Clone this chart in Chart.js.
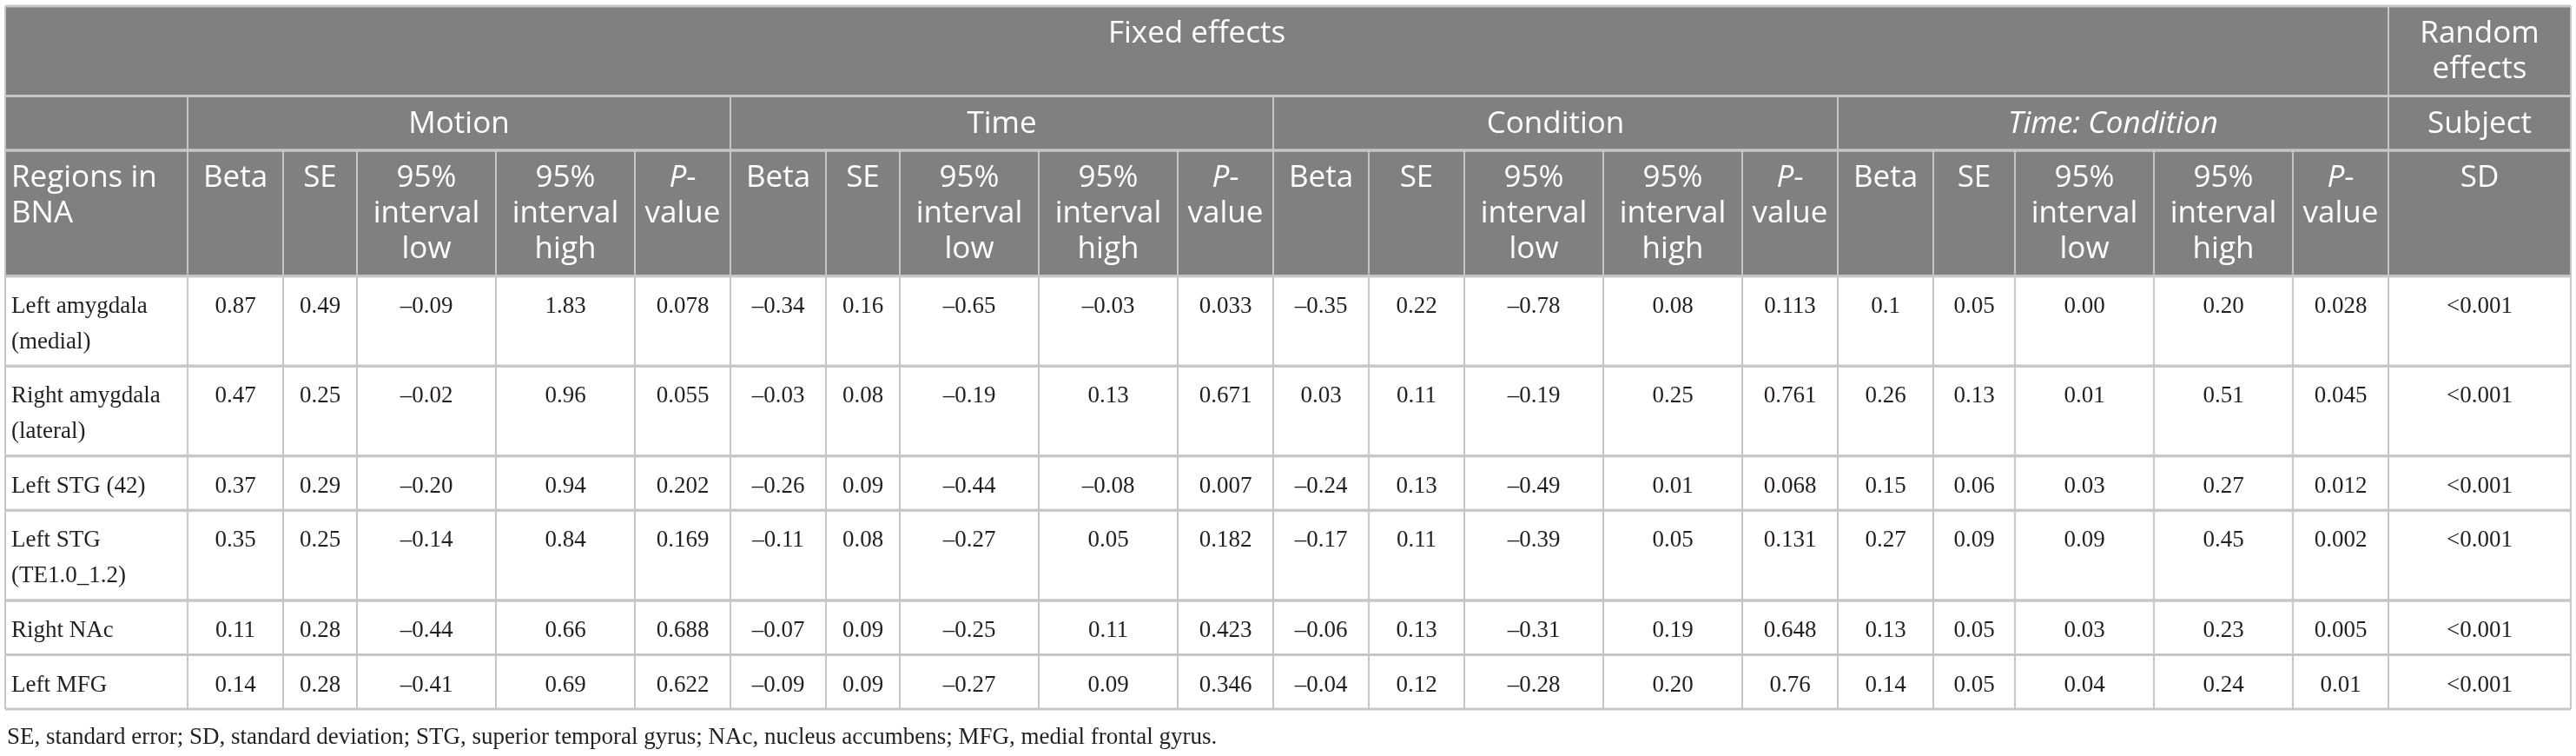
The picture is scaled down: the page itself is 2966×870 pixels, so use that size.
<!DOCTYPE html>
<html>
<head>
<meta charset="utf-8">
<title>Linear mixed model table</title>
<script src="https://cdn.jsdelivr.net/npm/chart.js@4.4.1/dist/chart.umd.min.js"></script>
<style>
  html, body { margin: 0; padding: 0; background: #fff; }
  #wrap { width: 2966px; height: 870px; position: relative; }
</style>
</head>
<body>
<div id="wrap"><canvas id="table"></canvas></div>
<script>
// ---- data ----
const regions = ['Left amygdala (medial)', 'Right amygdala (lateral)', 'Left STG (42)', 'Left STG (TE1.0_1.2)', 'Right NAc', 'Left MFG'];

const motionBeta = ['0.87', '0.47', '0.37', '0.35', '0.11', '0.14'];
const motionSE   = ['0.49', '0.25', '0.29', '0.25', '0.28', '0.28'];
const motionLow  = ['-0.09', '-0.02', '-0.20', '-0.14', '-0.44', '-0.41'];
const motionHigh = ['1.83', '0.96', '0.94', '0.84', '0.66', '0.69'];
const motionP    = ['0.078', '0.055', '0.202', '0.169', '0.688', '0.622'];

const timeBeta = ['-0.34', '-0.03', '-0.26', '-0.11', '-0.07', '-0.09'];
const timeSE   = ['0.16', '0.08', '0.09', '0.08', '0.09', '0.09'];
const timeLow  = ['-0.65', '-0.19', '-0.44', '-0.27', '-0.25', '-0.27'];
const timeHigh = ['-0.03', '0.13', '-0.08', '0.05', '0.11', '0.09'];
const timeP    = ['0.033', '0.671', '0.007', '0.182', '0.423', '0.346'];

const condBeta = ['-0.35', '0.03', '-0.24', '-0.17', '-0.06', '-0.04'];
const condSE   = ['0.22', '0.11', '0.13', '0.11', '0.13', '0.12'];
const condLow  = ['-0.78', '-0.19', '-0.49', '-0.39', '-0.31', '-0.28'];
const condHigh = ['0.08', '0.25', '0.01', '0.05', '0.19', '0.20'];
const condP    = ['0.113', '0.761', '0.068', '0.131', '0.648', '0.76'];

const tcBeta = ['0.1', '0.26', '0.15', '0.27', '0.13', '0.14'];
const tcSE   = ['0.05', '0.13', '0.06', '0.09', '0.05', '0.05'];
const tcLow  = ['0.00', '0.01', '0.03', '0.09', '0.03', '0.04'];
const tcHigh = ['0.20', '0.51', '0.27', '0.45', '0.23', '0.24'];
const tcP    = ['0.028', '0.045', '0.012', '0.002', '0.005', '0.01'];

const subjectSD = ['<0.001', '<0.001', '<0.001', '<0.001', '<0.001', '<0.001'];

// header labels (*...* = italic)
const groupLabels = ['Fixed effects', 'Random effects'];
const effectLabels = ['Motion', 'Time', 'Condition', '*Time: Condition*', 'Subject'];
const statLabels = ['Beta', 'SE', '95% interval low', '95% interval high', '*P*-value'];
const firstColLabel = 'Regions in BNA';
const sdLabel = 'SD';
const footnote = 'SE, standard error; SD, standard deviation; STG, superior temporal gyrus; NAc, nucleus accumbens; MFG, medial frontal gyrus.';

// ---- layout / style ----
const colWidths = [210, 110, 85, 160, 160, 110, 110, 85, 160, 160, 110, 110, 110, 160, 160, 110, 110, 94, 160, 160, 110, 210];
const HEAD_FONT = '35px "Open Sans"';
const BODY_FONT = '27px "Liberation Serif"';
const LINE_H = 41;
const CELL_PAD = 7;
const HEAD_BG = '#808080';
const RULE = '#c6c6c6';

const bodyColumns = [regions,
  motionBeta, motionSE, motionLow, motionHigh, motionP,
  timeBeta, timeSE, timeLow, timeHigh, timeP,
  condBeta, condSE, condLow, condHigh, condP,
  tcBeta, tcSE, tcLow, tcHigh, tcP,
  subjectSD];

const fmt = v => v.replace(/^-/, '\u2013');

// build the cell list
const cells = [];
cells.push({ r: 0, c0: 0, c1: 20, text: groupLabels[0], head: true });
cells.push({ r: 0, c0: 21, c1: 21, text: groupLabels[1], head: true });
cells.push({ r: 1, c0: 0, c1: 0, text: '', head: true });
for (let g = 0; g < 4; g++) {
  cells.push({ r: 1, c0: 1 + g * 5, c1: 5 + g * 5, text: effectLabels[g], head: true });
}
cells.push({ r: 1, c0: 21, c1: 21, text: effectLabels[4], head: true });
cells.push({ r: 2, c0: 0, c1: 0, text: firstColLabel, head: true, align: 'left' });
for (let g = 0; g < 4; g++) {
  statLabels.forEach((lab, k) => {
    cells.push({ r: 2, c0: 1 + g * 5 + k, c1: 1 + g * 5 + k, text: lab, head: true });
  });
}
cells.push({ r: 2, c0: 21, c1: 21, text: sdLabel, head: true });
regions.forEach((reg, i) => {
  bodyColumns.forEach((col, j) => {
    cells.push({ r: 3 + i, c0: j, c1: j, text: j ? fmt(col[i]) : reg, head: false, align: j ? 'center' : 'left' });
  });
});

const colEdges = [0];
colWidths.forEach(w => colEdges.push(colEdges[colEdges.length - 1] + w));

// split text into unbreakable units made of styled runs
function parseRich(text) {
  const units = [];
  let cur = null, space = false;
  text.split('*').forEach((seg, i) => {
    const it = i % 2 === 1;
    for (const ch of seg) {
      if (ch === ' ') { cur = null; space = true; continue; }
      if (!cur) {
        cur = { space: space && units.length > 0, runs: [] };
        units.push(cur);
        space = false;
      }
      const last = cur.runs[cur.runs.length - 1];
      if (last && last.it === it) last.t += ch; else cur.runs.push({ t: ch, it: it });
      if (ch === '-') cur = null;
    }
  });
  return units;
}

function fontOf(base, it) { return it ? 'italic ' + base : base; }

function unitWidth(ctx, base, u) {
  let w = 0;
  u.runs.forEach(run => { ctx.font = fontOf(base, run.it); w += ctx.measureText(run.t).width; });
  return w;
}

function wrap(ctx, text, base, maxW) {
  const units = parseRich(text);
  ctx.font = base;
  const sw = ctx.measureText(' ').width;
  const lines = [];
  let line = [], w = 0;
  units.forEach(u => {
    const uw = unitWidth(ctx, base, u);
    const add = (line.length && u.space ? sw : 0) + uw;
    if (line.length && w + add > maxW) {
      lines.push({ units: line, width: w });
      line = [Object.assign({}, u, { space: false })];
      w = uw;
    } else {
      line.push(u);
      w += add;
    }
  });
  if (line.length) lines.push({ units: line, width: w });
  return lines;
}

// measure lines to size rows
const measureCtx = document.createElement('canvas').getContext('2d');
cells.forEach(cell => {
  const width = colEdges[cell.c1 + 1] - colEdges[cell.c0] - 2 * CELL_PAD;
  cell.font = cell.head ? HEAD_FONT : BODY_FONT;
  cell.lines = cell.text ? wrap(measureCtx, cell.text, cell.font, width) : [];
});
const rowCount = 3 + regions.length;
const rowLines = new Array(rowCount).fill(1);
cells.forEach(cell => { rowLines[cell.r] = Math.max(rowLines[cell.r], cell.lines.length); });
const rowEdges = [0];
rowLines.forEach(n => rowEdges.push(rowEdges[rowEdges.length - 1] + 21.5 + LINE_H * n));

const tablePlugin = {
  id: 'tableCells',
  afterDraw(chart) {
    const ctx = chart.ctx;
    const x = chart.scales.x, y = chart.scales.y;
    const box = cell => ({
      left: x.getPixelForValue(colEdges[cell.c0]),
      right: x.getPixelForValue(colEdges[cell.c1 + 1]),
      top: y.getPixelForValue(rowEdges[cell.r]),
      bottom: y.getPixelForValue(rowEdges[cell.r + 1])
    });
    ctx.save();

    // fills
    cells.forEach(cell => {
      const b = box(cell);
      ctx.fillStyle = cell.head ? HEAD_BG : '#ffffff';
      ctx.fillRect(b.left, b.top, b.right - b.left, b.bottom - b.top);
    });

    // rules
    ctx.strokeStyle = RULE;
    cells.forEach(cell => {
      const b = box(cell);
      ctx.lineWidth = 3;
      ctx.beginPath();
      ctx.moveTo(b.left, b.top); ctx.lineTo(b.right, b.top);
      ctx.moveTo(b.left, b.bottom); ctx.lineTo(b.right, b.bottom);
      ctx.stroke();
      ctx.lineWidth = 2;
      ctx.beginPath();
      ctx.moveTo(b.left, b.top); ctx.lineTo(b.left, b.bottom);
      ctx.moveTo(b.right, b.top); ctx.lineTo(b.right, b.bottom);
      ctx.stroke();
    });

    // text
    ctx.textBaseline = 'middle';
    ctx.textAlign = 'left';
    cells.forEach(cell => {
      const b = box(cell);
      ctx.fillStyle = cell.head ? '#ffffff' : '#231f20';
      const first = b.top + (cell.head ? 32 : 35);
      cell.lines.forEach((line, li) => {
        let tx = cell.align === 'left' ? b.left + CELL_PAD : (b.left + b.right) / 2 - line.width / 2;
        const ty = first + li * LINE_H;
        ctx.font = cell.font;
        const sw = ctx.measureText(' ').width;
        line.units.forEach((u, ui) => {
          if (ui > 0 && u.space) tx += sw;
          u.runs.forEach(run => {
            ctx.font = fontOf(cell.font, run.it);
            ctx.fillText(run.t, tx, ty);
            tx += ctx.measureText(run.t).width;
          });
        });
      });
    });

    // footnote under the table
    ctx.font = BODY_FONT;
    ctx.fillStyle = '#231f20';
    ctx.fillText(footnote, x.getPixelForValue(0) + 2, chart.chartArea.bottom + 33);
    ctx.restore();
  }
};

new Chart(document.getElementById('table'), {
  type: 'scatter',
  data: { datasets: [{ data: [], pointRadius: 0 }] },
  options: {
    responsive: true,
    maintainAspectRatio: false,
    animation: false,
    events: [],
    layout: { padding: { left: 6, right: 6, top: 7, bottom: 54 } },
    plugins: { legend: { display: false }, tooltip: { enabled: false } },
    scales: {
      x: { type: 'linear', min: 0, max: colEdges[colEdges.length - 1], display: false },
      y: { type: 'linear', min: 0, max: rowEdges[rowEdges.length - 1], reverse: true, display: false }
    }
  },
  plugins: [tablePlugin]
});
</script>
</body>
</html>
